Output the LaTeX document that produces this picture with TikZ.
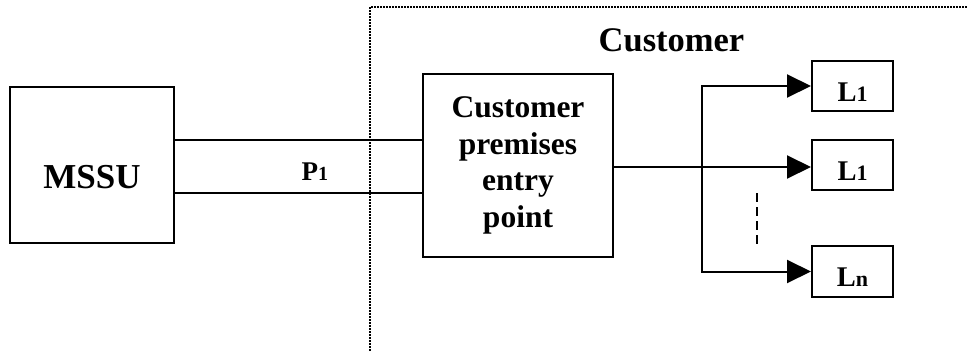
\documentclass[tikz,border=0pt]{standalone}
\usepackage{fontspec}
\setmainfont{Liberation Serif}
\usetikzlibrary{arrows.meta}
\tikzset{
  boxnode/.style={draw, line width=2pt, inner sep=0pt, text depth=0pt, font=\bfseries},
  conn/.style={line width=2pt},
  arr/.style={line width=2pt, -{Triangle[length=24pt,width=23pt]}},
  border/.style={line width=2.6pt, dash pattern=on 2pt off 1pt},
  gap/.style={line width=1.8pt, dash pattern=on 9pt off 5pt},
}
\newcommand{\Lfont}{\fontsize{28.5}{30}\selectfont}
\newcommand{\Lsub}[1]{{\fontsize{22}{24}\selectfont #1}}
\begin{document}
\begin{tikzpicture}[x=1pt,y=-1pt]
\useasboundingbox (0,0) rectangle (967,351);
% customer boundary
\coordinate (bb) at (370,351);
\coordinate (bc) at (370,7);
\coordinate (br0) at (967,7);
\draw[border] (bb) -- (bc) -- (br0);
\node[anchor=base, font=\bfseries\fontsize{34.5}{40}\selectfont] (title) at (671.5,51) {Customer};
% MSSU
\node[boxnode, minimum width=164pt, minimum height=156pt, text height=46pt,
      font=\bfseries\fontsize{35}{40}\selectfont] (mssu) at (92,165) {MSSU};
% customer premises entry point
\node[boxnode, minimum width=190pt, minimum height=183pt, align=center, text depth=,
      font=\bfseries\fontsize{31.5}{36.7}\selectfont] (cpe) at (518,165.5)
      {Customer\\premises\\entry\\point};
% lines between
\draw[conn] ([yshift=25pt]mssu.east) -- ([yshift=25pt]mssu.east -| cpe.west);
\draw[conn] ([yshift=-28pt]mssu.east) -- ([yshift=-28pt]mssu.east -| cpe.west);
\node[anchor=base west, font=\bfseries\fontsize{27}{30}\selectfont] (p1) at (298,180) {P{\fontsize{20}{22}\selectfont 1}};
% L boxes
\node[boxnode, minimum width=81pt, minimum height=50pt, text height=31.4pt] (l1) at (852.5,86) {\Lfont L\Lsub{1}};
\node[boxnode, minimum width=81pt, minimum height=50pt, text height=31.4pt] (l2) at (852.5,165) {\Lfont L\Lsub{1}};
\node[boxnode, minimum width=81pt, minimum height=51pt, text height=30.4pt] (ln) at (852.5,271.5) {\Lfont L\Lsub{n}};
% outgoing
\coordinate (br) at (702,167);
\draw[arr] (cpe.east |- br) -- (l2.west |- br);
\draw[line width=2pt, line join=miter, {Triangle[length=24pt,width=23pt]}-{Triangle[length=24pt,width=23pt]}]
  (l1.west) -- (br |- l1.west) -- (br |- ln.west) -- (ln.west);
\coordinate (d1) at (757,193);
\coordinate (d2) at (757,247);
\draw[gap] (d1) -- (d2);
\end{tikzpicture}
\end{document}
